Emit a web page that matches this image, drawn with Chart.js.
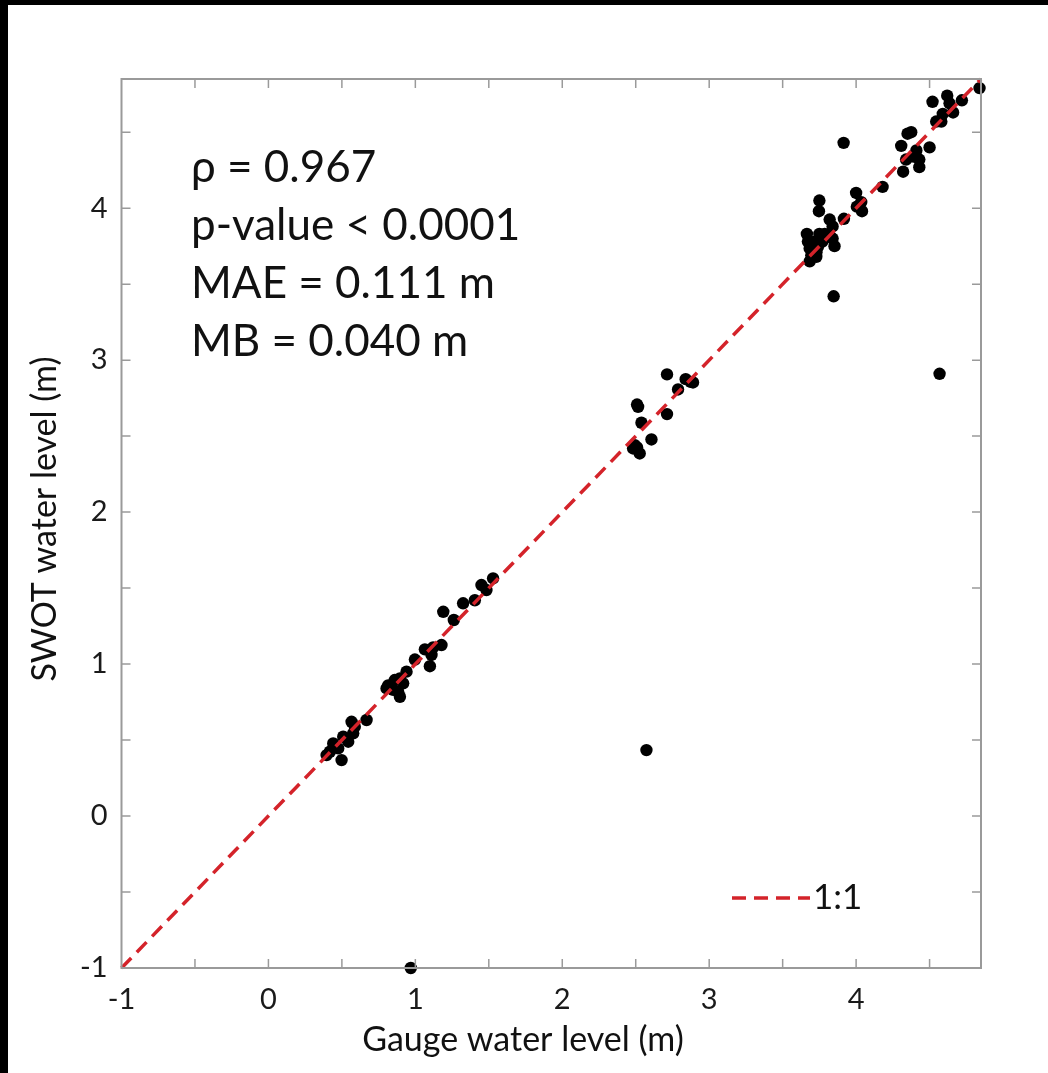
<!DOCTYPE html>
<html>
<head>
<meta charset="utf-8">
<script src="https://cdn.jsdelivr.net/npm/chart.js@4.4.1/dist/chart.umd.min.js"></script>
<style>
  html, body { margin: 0; padding: 0; background: #000; width: 1048px; height: 1073px; overflow: hidden; }
  #wrap { position: absolute; left: 8px; top: 5px; width: 1040px; height: 1068px; background: #fff; }
  canvas { display: block; }
</style>
</head>
<body>
<div id="wrap"><canvas id="c" width="1040" height="1068"></canvas></div>
<script>
// ---- data ----
const gaugeLevel = [
  0.566, 0.668, 0.588, 0.577, 0.509, 0.543, 0.441, 0.475, 0.418, 0.396, 0.498,
  0.940, 0.895, 0.860, 0.815, 0.804, 0.849, 0.895, 0.883, 0.917,
  1.178, 1.121, 1.065, 1.110, 0.997, 1.099,
  1.190, 1.262, 1.325, 1.405, 1.450, 1.484, 1.529,
  2.713, 2.840, 2.874, 2.890, 2.788, 2.509, 2.516, 2.713, 2.539, 2.607, 2.482, 2.509, 2.527, 2.493,
  4.840, 4.720, 4.620, 4.520, 4.636, 4.660, 4.590, 4.580, 4.545, 4.375, 4.350, 4.307, 4.500,
  4.410, 4.390, 4.340, 4.430, 4.430, 4.320, 4.180, 4.000, 4.035, 4.040, 4.005, 3.917,
  3.750, 3.747, 3.820, 3.840, 3.665, 3.672, 3.684, 3.695, 3.684, 3.729, 3.740, 3.750,
  3.786, 3.820, 3.853, 3.840, 3.718, 3.770, 3.730, 3.847, 3.915,
  4.568, 2.573, 0.969
];
const swotLevel = [
  0.620, 0.632, 0.588, 0.544, 0.522, 0.489, 0.478, 0.445, 0.423, 0.401, 0.368,
  0.950, 0.906, 0.895, 0.860, 0.840, 0.830, 0.785, 0.818, 0.873,
  1.125, 1.110, 1.097, 1.060, 1.030, 0.986,
  1.344, 1.290, 1.400, 1.420, 1.520, 1.487, 1.564,
  2.906, 2.875, 2.857, 2.853, 2.807, 2.708, 2.693, 2.645, 2.588, 2.478, 2.419, 2.426, 2.386, 2.440,
  4.790, 4.710, 4.740, 4.700, 4.690, 4.630, 4.620, 4.570, 4.570, 4.500, 4.490, 4.410, 4.400,
  4.380, 4.340, 4.320, 4.320, 4.270, 4.240, 4.140, 4.100, 4.040, 3.980, 4.010, 3.930,
  4.050, 3.980, 3.925, 3.880, 3.830, 3.780, 3.735, 3.690, 3.650, 3.680, 3.745, 3.830,
  3.830, 3.820, 3.750, 3.800, 3.780, 3.780, 3.710, 3.420, 4.430,
  2.910, 0.434, -1.000
];
const axisMin = -1;
const axisMax = 4.85;
const tickValues = [-1, 0, 1, 2, 3, 4];
const minorStep = 0.5;
const oneToOneX = [-1, 4.85];
const statsLines = ['\u03C1 = 0.967', 'p-value < 0.0001', 'MAE = 0.111 m', 'MB = 0.040 m'];
const xTitle = 'Gauge water level (m)';
const yTitle = 'SWOT water level (m)';
const legendLabel = '1:1';

const FONT = 'Lato, "Open Sans", sans-serif';
const RED = '#d4232a';
const DASH = [14, 8];

const points = gaugeLevel.map((g, i) => ({ x: g, y: swotLevel[i] }));
const lineData = oneToOneX.map(v => ({ x: v, y: v }));

const framePlugin = {
  id: 'frame',
  afterDraw(chart) {
    const { ctx, chartArea: a, scales } = chart;
    const xs = scales.x, ys = scales.y;
    ctx.save();
    ctx.strokeStyle = '#9a9a9a';
    ctx.lineWidth = 2;
    ctx.strokeRect(a.left, a.top, a.right - a.left, a.bottom - a.top);
    const tl = 9;
    ctx.lineWidth = 1.5;
    ctx.beginPath();
    for (let v = axisMin + minorStep; v < axisMax; v += minorStep) {
      const px = xs.getPixelForValue(v);
      ctx.moveTo(px, a.bottom); ctx.lineTo(px, a.bottom - tl);
      ctx.moveTo(px, a.top); ctx.lineTo(px, a.top + tl);
      const py = ys.getPixelForValue(v);
      ctx.moveTo(a.left, py); ctx.lineTo(a.left + tl, py);
      ctx.moveTo(a.right, py); ctx.lineTo(a.right - tl, py);
    }
    ctx.stroke();

    // stats text
    ctx.fillStyle = '#111';
    ctx.font = '44px ' + FONT;
    ctx.textAlign = 'left';
    ctx.textBaseline = 'alphabetic';
    statsLines.forEach((s, i) => ctx.fillText(s, 183, 177 + i * 58));

    // legend
    const ly = 893;
    ctx.strokeStyle = RED;
    ctx.lineWidth = 3.5;
    ctx.setLineDash(DASH);
    ctx.beginPath(); ctx.moveTo(724, ly); ctx.lineTo(802, ly); ctx.stroke();
    ctx.setLineDash([]);
    ctx.fillStyle = '#111';
    ctx.font = '35px ' + FONT;
    ctx.textBaseline = 'middle';
    ctx.fillText(legendLabel, 805, ly);

    // axis titles
    ctx.font = '34px ' + FONT;
    ctx.textAlign = 'center';
    ctx.textBaseline = 'middle';
    ctx.fillText(xTitle, 515, 1035);
    ctx.translate(37, 514);
    ctx.rotate(-Math.PI / 2);
    ctx.fillText(yTitle, 0, 0);
    ctx.restore();
  }
};

new Chart(document.getElementById('c'), {
  type: 'scatter',
  data: {
    datasets: [
      {
        type: 'line', label: legendLabel, data: lineData,
        borderColor: RED, borderWidth: 3.5, borderDash: DASH,
        pointRadius: 0, fill: false, order: 0, clip: false
      },
      {
        label: 'obs', data: points,
        backgroundColor: '#000', borderColor: '#000',
        pointRadius: 6.2, pointHoverRadius: 6.2, borderWidth: 0, order: 1, clip: false
      }
    ]
  },
  options: {
    responsive: false,
    animation: false,
    events: [],
    layout: { padding: { top: 74, right: 67, left: 0, bottom: 0 } },
    plugins: { legend: { display: false }, tooltip: { enabled: false } },
    scales: {
      x: {
        type: 'linear', min: axisMin, max: axisMax,
        afterFit(s) { s.height = 105; },
        afterBuildTicks(s) { s.ticks = tickValues.map(v => ({ value: v })); },
        grid: { display: false },
        border: { display: false },
        ticks: { color: '#1a1a1a', font: { size: 29, family: FONT }, padding: 6, maxRotation: 0 }
      },
      y: {
        type: 'linear', min: axisMin, max: axisMax,
        afterFit(s) { s.width = 113.5; },
        afterBuildTicks(s) { s.ticks = tickValues.map(v => ({ value: v })); },
        grid: { display: false },
        border: { display: false },
        ticks: { color: '#1a1a1a', font: { size: 29, family: FONT }, padding: 6 }
      }
    }
  },
  plugins: [framePlugin]
});
</script>
</body>
</html>
